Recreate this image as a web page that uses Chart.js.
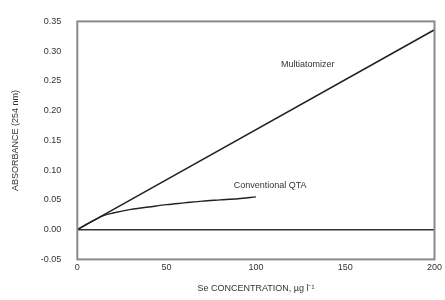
<!DOCTYPE html>
<html>
<head>
<meta charset="utf-8">
<script src="https://cdn.jsdelivr.net/npm/chart.js@4"></script>
<style>
  body { margin: 0; background: #fff; }
</style>
</head>
<body>
<canvas id="chart" width="445" height="300"></canvas>
<script>
// Se concentration (µg l-1) vs absorbance
const multiX = [0, 200];
const multiY = [0, 0.336];
const qtaX = [0, 5, 10, 15, 20, 30, 40, 50, 60, 70, 80, 90, 100];
const qtaY = [0, 0.009, 0.017, 0.024, 0.028, 0.034, 0.038, 0.042, 0.045, 0.048, 0.050, 0.052, 0.055];
const yTicks = [-0.05, 0, 0.05, 0.10, 0.15, 0.20, 0.25, 0.30, 0.35];
const xTicks = [0, 50, 100, 150, 200];
const seriesLabels = [
  { text: 'Multiatomizer', x: 129, y: 0.278 },
  { text: 'Conventional QTA', x: 108, y: 0.074 }
];

const FONT = 'Liberation Sans';
const toPts = (xs, ys) => xs.map((x, i) => ({ x: x, y: ys[i] }));

// frame round the plot + text labels next to the curves
const extras = {
  id: 'extras',
  afterDraw(chart) {
    const c = chart.ctx, a = chart.chartArea;
    c.save();
    c.strokeStyle = '#8a8a8a';
    c.lineWidth = 2;
    c.strokeRect(a.left, a.top, a.right - a.left, a.bottom - a.top);
    c.fillStyle = '#333';
    c.font = '9px "' + FONT + '"';
    c.textAlign = 'center';
    c.textBaseline = 'middle';
    seriesLabels.forEach(l => {
      c.fillText(l.text, chart.scales.x.getPixelForValue(l.x), chart.scales.y.getPixelForValue(l.y));
    });
    c.restore();
  }
};

new Chart(document.getElementById('chart'), {
  type: 'scatter',
  data: {
    datasets: [
      { data: toPts(multiX, multiY), showLine: true, borderColor: '#222', borderWidth: 1.6, pointRadius: 0, tension: 0 },
      { data: toPts(qtaX, qtaY), showLine: true, borderColor: '#222', borderWidth: 1.4, pointRadius: 0, cubicInterpolationMode: 'monotone' }
    ]
  },
  options: {
    responsive: false,
    animation: false,
    layout: { padding: { top: 15, right: 3, left: 10, bottom: 6 } },
    plugins: { legend: { display: false }, tooltip: { enabled: false } },
    scales: {
      x: {
        type: 'linear',
        min: 0, max: 200,
        afterBuildTicks: s => { s.ticks = xTicks.map(v => ({ value: v })); },
        ticks: { color: '#333', font: { family: FONT, size: 9 }, padding: 3, maxRotation: 0 },
        grid: { display: false, drawTicks: false },
        border: { display: false },
        title: { display: true, text: 'Se CONCENTRATION, µg l⁻¹', color: '#333', font: { family: FONT, size: 9 }, padding: { top: 7, bottom: 0 } }
      },
      y: {
        min: -0.05, max: 0.35,
        afterBuildTicks: s => { s.ticks = yTicks.map(v => ({ value: v })); },
        ticks: { color: '#333', font: { family: FONT, size: 9 }, padding: 16, callback: v => v.toFixed(2) },
        grid: { drawTicks: false, lineWidth: 1.5, color: c => c.tick && Math.abs(c.tick.value) < 1e-9 ? '#333' : 'transparent' },
        border: { display: false },
        title: { display: true, text: 'ABSORBANCE (254 nm)', color: '#333', font: { family: FONT, size: 9 }, padding: { top: 0, bottom: 4 } }
      }
    }
  },
  plugins: [extras]
});
</script>
</body>
</html>
